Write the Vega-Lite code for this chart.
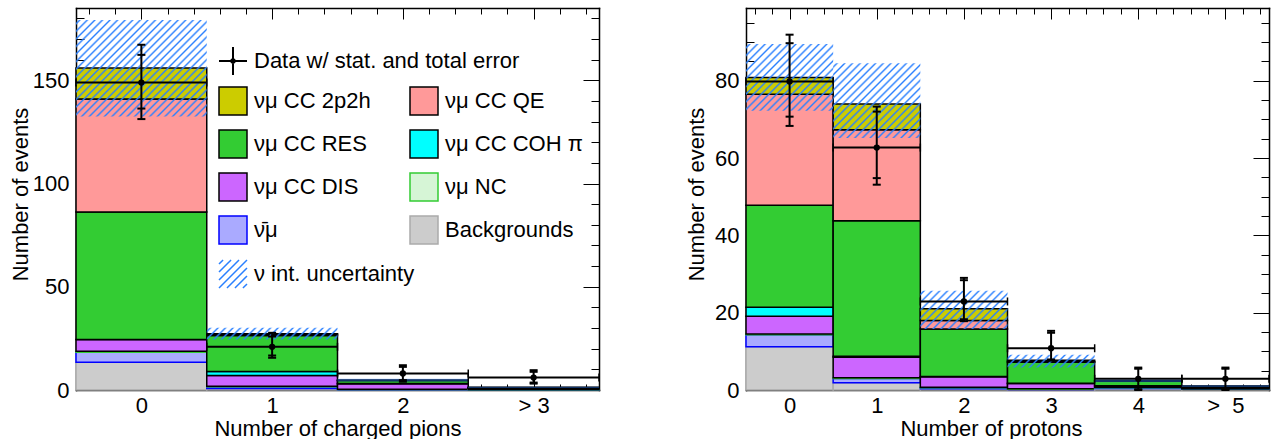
{
  "$schema": "https://vega.github.io/schema/vega-lite/v6.json",
  "padding": {"left": 9, "top": 7, "right": 5, "bottom": 0},
  "background": "white",
  "config": {
    "font": "Liberation Sans",
    "view": {"stroke": null},
    "axis": {"domain": false, "grid": false, "tickColor": "#000000", "tickWidth": 1, "labelColor": "#000000", "titleColor": "#000000", "labelFontSize": 22, "titleFontSize": 22, "titleFontWeight": "normal", "labelFont": "Liberation Sans", "titleFont": "Liberation Sans", "zindex": 1},
    "legend": {"labelFont": "Liberation Sans", "labelFontSize": 22, "labelColor": "#000000", "labelLimit": 500, "padding": 0, "titlePadding": 0}
  },
  "bounds": "flush",
  "spacing": 147,
  "datasets": {
    "lstack": [
      {"bin": 0, "x0": -0.5, "x1": 0.5, "comp": "Backgrounds", "ord": 1, "n": 13.4},
      {"bin": 0, "x0": -0.5, "x1": 0.5, "comp": "ν̄μ", "ord": 2, "n": 4.9},
      {"bin": 0, "x0": -0.5, "x1": 0.5, "comp": "νμ NC", "ord": 3, "n": 0.5},
      {"bin": 0, "x0": -0.5, "x1": 0.5, "comp": "νμ CC DIS", "ord": 4, "n": 5.6},
      {"bin": 0, "x0": -0.5, "x1": 0.5, "comp": "νμ CC COH π", "ord": 5, "n": 0},
      {"bin": 0, "x0": -0.5, "x1": 0.5, "comp": "νμ CC RES", "ord": 6, "n": 61.8},
      {"bin": 0, "x0": -0.5, "x1": 0.5, "comp": "νμ CC QE", "ord": 7, "n": 54.7},
      {"bin": 0, "x0": -0.5, "x1": 0.5, "comp": "νμ CC 2p2h", "ord": 8, "n": 15.0},
      {"bin": 1, "x0": 0.5, "x1": 1.5, "comp": "Backgrounds", "ord": 1, "n": 0.7},
      {"bin": 1, "x0": 0.5, "x1": 1.5, "comp": "ν̄μ", "ord": 2, "n": 0.9},
      {"bin": 1, "x0": 0.5, "x1": 1.5, "comp": "νμ NC", "ord": 3, "n": 0.2},
      {"bin": 1, "x0": 0.5, "x1": 1.5, "comp": "νμ CC DIS", "ord": 4, "n": 5.2},
      {"bin": 1, "x0": 0.5, "x1": 1.5, "comp": "νμ CC COH π", "ord": 5, "n": 2.0},
      {"bin": 1, "x0": 0.5, "x1": 1.5, "comp": "νμ CC RES", "ord": 6, "n": 17.4},
      {"bin": 1, "x0": 0.5, "x1": 1.5, "comp": "νμ CC QE", "ord": 7, "n": 0.6},
      {"bin": 1, "x0": 0.5, "x1": 1.5, "comp": "νμ CC 2p2h", "ord": 8, "n": 0.3},
      {"bin": 2, "x0": 1.5, "x1": 2.5, "comp": "Backgrounds", "ord": 1, "n": 0.1},
      {"bin": 2, "x0": 1.5, "x1": 2.5, "comp": "ν̄μ", "ord": 2, "n": 0.2},
      {"bin": 2, "x0": 1.5, "x1": 2.5, "comp": "νμ NC", "ord": 3, "n": 0.1},
      {"bin": 2, "x0": 1.5, "x1": 2.5, "comp": "νμ CC DIS", "ord": 4, "n": 2.6},
      {"bin": 2, "x0": 1.5, "x1": 2.5, "comp": "νμ CC COH π", "ord": 5, "n": 0.2},
      {"bin": 2, "x0": 1.5, "x1": 2.5, "comp": "νμ CC RES", "ord": 6, "n": 1.4},
      {"bin": 2, "x0": 1.5, "x1": 2.5, "comp": "νμ CC QE", "ord": 7, "n": 0.1},
      {"bin": 2, "x0": 1.5, "x1": 2.5, "comp": "νμ CC 2p2h", "ord": 8, "n": 0.05},
      {"bin": 3, "x0": 2.5, "x1": 3.5, "comp": "Backgrounds", "ord": 1, "n": 0.05},
      {"bin": 3, "x0": 2.5, "x1": 3.5, "comp": "ν̄μ", "ord": 2, "n": 0.1},
      {"bin": 3, "x0": 2.5, "x1": 3.5, "comp": "νμ NC", "ord": 3, "n": 0.05},
      {"bin": 3, "x0": 2.5, "x1": 3.5, "comp": "νμ CC DIS", "ord": 4, "n": 0.6},
      {"bin": 3, "x0": 2.5, "x1": 3.5, "comp": "νμ CC COH π", "ord": 5, "n": 0.05},
      {"bin": 3, "x0": 2.5, "x1": 3.5, "comp": "νμ CC RES", "ord": 6, "n": 0.35},
      {"bin": 3, "x0": 2.5, "x1": 3.5, "comp": "νμ CC QE", "ord": 7, "n": 0.05},
      {"bin": 3, "x0": 2.5, "x1": 3.5, "comp": "νμ CC 2p2h", "ord": 8, "n": 0.02}
    ],
    "lband": [
      {"bin": 0, "x0": -0.5, "x1": 0.5, "lo": 132.5, "hi": 179.2},
      {"bin": 1, "x0": 0.5, "x1": 1.5, "lo": 24.4, "hi": 30.1},
      {"bin": 2, "x0": 1.5, "x1": 2.5, "lo": 4.1, "hi": 5.4},
      {"bin": 3, "x0": 2.5, "x1": 3.5, "lo": 1.0, "hi": 1.55}
    ],
    "ldata": [
      {"bin": 0, "x0": -0.5, "x1": 0.5, "c": 0, "v": 148.9, "tlo": 131.2, "thi": 167.2, "slo": 136.3, "shi": 162.3},
      {"bin": 1, "x0": 0.5, "x1": 1.5, "c": 1, "v": 20.9, "tlo": 15.6, "thi": 27.7, "slo": 16.7, "shi": 25.9},
      {"bin": 2, "x0": 1.5, "x1": 2.5, "c": 2, "v": 8.0, "tlo": 4.0, "thi": 12.0, "slo": 4.8, "shi": 11.2},
      {"bin": 3, "x0": 2.5, "x1": 3.5, "c": 3, "v": 6.0, "tlo": 3.1, "thi": 9.6, "slo": 3.6, "shi": 8.8}
    ],
    "rstack": [
      {"bin": 0, "x0": -0.5, "x1": 0.5, "comp": "Backgrounds", "ord": 1, "n": 11.2},
      {"bin": 0, "x0": -0.5, "x1": 0.5, "comp": "ν̄μ", "ord": 2, "n": 3.1},
      {"bin": 0, "x0": -0.5, "x1": 0.5, "comp": "νμ NC", "ord": 3, "n": 0.2},
      {"bin": 0, "x0": -0.5, "x1": 0.5, "comp": "νμ CC DIS", "ord": 4, "n": 4.6},
      {"bin": 0, "x0": -0.5, "x1": 0.5, "comp": "νμ CC COH π", "ord": 5, "n": 2.3},
      {"bin": 0, "x0": -0.5, "x1": 0.5, "comp": "νμ CC RES", "ord": 6, "n": 26.4},
      {"bin": 0, "x0": -0.5, "x1": 0.5, "comp": "νμ CC QE", "ord": 7, "n": 28.7},
      {"bin": 0, "x0": -0.5, "x1": 0.5, "comp": "νμ CC 2p2h", "ord": 8, "n": 4.3},
      {"bin": 1, "x0": 0.5, "x1": 1.5, "comp": "Backgrounds", "ord": 1, "n": 1.9},
      {"bin": 1, "x0": 0.5, "x1": 1.5, "comp": "ν̄μ", "ord": 2, "n": 1.1},
      {"bin": 1, "x0": 0.5, "x1": 1.5, "comp": "νμ NC", "ord": 3, "n": 0.2},
      {"bin": 1, "x0": 0.5, "x1": 1.5, "comp": "νμ CC DIS", "ord": 4, "n": 5.3},
      {"bin": 1, "x0": 0.5, "x1": 1.5, "comp": "νμ CC COH π", "ord": 5, "n": 0.2},
      {"bin": 1, "x0": 0.5, "x1": 1.5, "comp": "νμ CC RES", "ord": 6, "n": 35.1},
      {"bin": 1, "x0": 0.5, "x1": 1.5, "comp": "νμ CC QE", "ord": 7, "n": 23.5},
      {"bin": 1, "x0": 0.5, "x1": 1.5, "comp": "νμ CC 2p2h", "ord": 8, "n": 6.7},
      {"bin": 2, "x0": 1.5, "x1": 2.5, "comp": "Backgrounds", "ord": 1, "n": 0.3},
      {"bin": 2, "x0": 1.5, "x1": 2.5, "comp": "ν̄μ", "ord": 2, "n": 0.3},
      {"bin": 2, "x0": 1.5, "x1": 2.5, "comp": "νμ NC", "ord": 3, "n": 0.1},
      {"bin": 2, "x0": 1.5, "x1": 2.5, "comp": "νμ CC DIS", "ord": 4, "n": 2.7},
      {"bin": 2, "x0": 1.5, "x1": 2.5, "comp": "νμ CC COH π", "ord": 5, "n": 0.1},
      {"bin": 2, "x0": 1.5, "x1": 2.5, "comp": "νμ CC RES", "ord": 6, "n": 12.3},
      {"bin": 2, "x0": 1.5, "x1": 2.5, "comp": "νμ CC QE", "ord": 7, "n": 2.2},
      {"bin": 2, "x0": 1.5, "x1": 2.5, "comp": "νμ CC 2p2h", "ord": 8, "n": 3.0},
      {"bin": 3, "x0": 2.5, "x1": 3.5, "comp": "Backgrounds", "ord": 1, "n": 0.1},
      {"bin": 3, "x0": 2.5, "x1": 3.5, "comp": "ν̄μ", "ord": 2, "n": 0.1},
      {"bin": 3, "x0": 2.5, "x1": 3.5, "comp": "νμ NC", "ord": 3, "n": 0.1},
      {"bin": 3, "x0": 2.5, "x1": 3.5, "comp": "νμ CC DIS", "ord": 4, "n": 1.4},
      {"bin": 3, "x0": 2.5, "x1": 3.5, "comp": "νμ CC COH π", "ord": 5, "n": 0.05},
      {"bin": 3, "x0": 2.5, "x1": 3.5, "comp": "νμ CC RES", "ord": 6, "n": 5.45},
      {"bin": 3, "x0": 2.5, "x1": 3.5, "comp": "νμ CC QE", "ord": 7, "n": 0.2},
      {"bin": 3, "x0": 2.5, "x1": 3.5, "comp": "νμ CC 2p2h", "ord": 8, "n": 0.3},
      {"bin": 4, "x0": 3.5, "x1": 4.5, "comp": "Backgrounds", "ord": 1, "n": 0.4},
      {"bin": 4, "x0": 3.5, "x1": 4.5, "comp": "ν̄μ", "ord": 2, "n": 0.2},
      {"bin": 4, "x0": 3.5, "x1": 4.5, "comp": "νμ NC", "ord": 3, "n": 0.1},
      {"bin": 4, "x0": 3.5, "x1": 4.5, "comp": "νμ CC DIS", "ord": 4, "n": 0.4},
      {"bin": 4, "x0": 3.5, "x1": 4.5, "comp": "νμ CC COH π", "ord": 5, "n": 0.02},
      {"bin": 4, "x0": 3.5, "x1": 4.5, "comp": "νμ CC RES", "ord": 6, "n": 1.2},
      {"bin": 4, "x0": 3.5, "x1": 4.5, "comp": "νμ CC QE", "ord": 7, "n": 0.03},
      {"bin": 4, "x0": 3.5, "x1": 4.5, "comp": "νμ CC 2p2h", "ord": 8, "n": 0.05},
      {"bin": 5, "x0": 4.5, "x1": 5.5, "comp": "Backgrounds", "ord": 1, "n": 0.2},
      {"bin": 5, "x0": 4.5, "x1": 5.5, "comp": "ν̄μ", "ord": 2, "n": 0.1},
      {"bin": 5, "x0": 4.5, "x1": 5.5, "comp": "νμ NC", "ord": 3, "n": 0.05},
      {"bin": 5, "x0": 4.5, "x1": 5.5, "comp": "νμ CC DIS", "ord": 4, "n": 0.25},
      {"bin": 5, "x0": 4.5, "x1": 5.5, "comp": "νμ CC COH π", "ord": 5, "n": 0.01},
      {"bin": 5, "x0": 4.5, "x1": 5.5, "comp": "νμ CC RES", "ord": 6, "n": 0.35},
      {"bin": 5, "x0": 4.5, "x1": 5.5, "comp": "νμ CC QE", "ord": 7, "n": 0.02},
      {"bin": 5, "x0": 4.5, "x1": 5.5, "comp": "νμ CC 2p2h", "ord": 8, "n": 0.02}
    ],
    "rband": [
      {"bin": 0, "x0": -0.5, "x1": 0.5, "lo": 72.2, "hi": 89.5},
      {"bin": 1, "x0": 0.5, "x1": 1.5, "lo": 65.2, "hi": 84.5},
      {"bin": 2, "x0": 1.5, "x1": 2.5, "lo": 15.8, "hi": 25.7},
      {"bin": 3, "x0": 2.5, "x1": 3.5, "lo": 5.8, "hi": 9.1},
      {"bin": 4, "x0": 3.5, "x1": 4.5, "lo": 2.0, "hi": 2.9},
      {"bin": 5, "x0": 4.5, "x1": 5.5, "lo": 0.8, "hi": 1.2}
    ],
    "rdata": [
      {"bin": 0, "x0": -0.5, "x1": 0.5, "c": 0, "v": 79.8, "tlo": 68.3, "thi": 91.9, "slo": 70.7, "shi": 89.7},
      {"bin": 1, "x0": 0.5, "x1": 1.5, "c": 1, "v": 62.7, "tlo": 53.1, "thi": 73.3, "slo": 54.8, "shi": 72.0},
      {"bin": 2, "x0": 1.5, "x1": 2.5, "c": 2, "v": 22.9, "tlo": 17.8, "thi": 29.0, "slo": 18.3, "shi": 28.4},
      {"bin": 3, "x0": 2.5, "x1": 3.5, "c": 3, "v": 10.8, "tlo": 7.6, "thi": 15.3, "slo": 7.9, "shi": 14.8},
      {"bin": 4, "x0": 3.5, "x1": 4.5, "c": 4, "v": 2.9, "tlo": 0.0, "thi": 5.8, "slo": 0.2, "shi": 5.5},
      {"bin": 5, "x0": 4.5, "x1": 5.5, "c": 5, "v": 2.9, "tlo": 0.0, "thi": 5.8, "slo": 0.2, "shi": 5.5}
    ]
  },
  "hconcat": [
    {
      "width": 523,
      "height": 382,
      "resolve": {"scale": {"fill": "independent", "stroke": "independent", "shape": "independent"}, "axis": {"x": "independent", "y": "independent"}},
      "layer": [
        {
          "data": {"name": "lstack"},
          "transform": [{"stack": "n", "groupby": ["bin"], "sort": [{"field": "ord", "order": "ascending"}], "as": ["lo", "hi"]}],
          "mark": {"type": "rect", "strokeWidth": 1.5},
          "encoding": {
            "x": {"field": "x0", "type": "quantitative", "scale": {"domain": [-0.5, 3.5], "nice": false, "zero": false},
                  "axis": {"orient": "bottom", "values": [0, 1, 2, 3], "offset": -11, "tickSize": 11, "labelPadding": 5, "labelExpr": "datum.value == 3 ? '> 3' : format(datum.value, 'd')", "title": "Number of charged pions", "titleBaseline": "alphabetic", "titleY": 56}},
            "x2": {"field": "x1"},
            "y": {"field": "lo", "type": "quantitative", "scale": {"domain": [0, 185], "nice": false},
                  "axis": {"orient": "left", "values": [0, 50, 100, 150], "offset": -16, "tickSize": 16, "labelPadding": 7, "title": "Number of events", "titleBaseline": "alphabetic", "titleX": -64.5, "titleY": 186}},
            "y2": {"field": "hi"},
            "fill": {"field": "comp", "type": "nominal",
                     "scale": {"domain": ["νμ CC 2p2h", "νμ CC RES", "νμ CC DIS", "ν̄μ", "νμ CC QE", "νμ CC COH π", "νμ NC", "Backgrounds"],
                               "range": ["#cccc00", "#33cc33", "#cc66ff", "#aaaaff", "#ff9999", "#00ffff", "#d6f5d6", "#cccccc"]},
                     "legend": {"orient": "none", "legendX": 142, "legendY": 78, "columns": 2, "columnPadding": 36, "rowPadding": 9, "symbolType": "square", "symbolSize": 784, "symbolStrokeWidth": 1.5, "labelOffset": 6, "title": null}},
            "stroke": {"field": "comp", "type": "nominal",
                       "scale": {"domain": ["νμ CC 2p2h", "νμ CC RES", "νμ CC DIS", "ν̄μ", "νμ CC QE", "νμ CC COH π", "νμ NC", "Backgrounds"],
                                 "range": ["#000000", "#000000", "#000000", "#0000ff", "#000000", "#000000", "#33cc33", "#aaaaaa"]},
                       "legend": {"orient": "none", "legendX": 142, "legendY": 78, "columns": 2, "columnPadding": 36, "rowPadding": 9, "symbolType": "square", "symbolSize": 784, "symbolStrokeWidth": 1.5, "labelOffset": 6, "title": null}}
          }
        },
        {
          "data": {"name": "lband"},
          "transform": [{"filter": "datum.bin == 0"}],
          "mark": {"type": "rect", "fill": {"gradient": "linear", "x1": 0, "y1": 0, "x2": 1.12548, "y2": 0.82979, "stops": [
            {"offset": 0.0079, "color": "rgba(42,128,255,0)"}, {"offset": 0.0167, "color": "#2a80ff"}, {"offset": 0.0255, "color": "rgba(42,128,255,0)"},
            {"offset": 0.0412, "color": "rgba(42,128,255,0)"}, {"offset": 0.05, "color": "#2a80ff"}, {"offset": 0.0588, "color": "rgba(42,128,255,0)"},
            {"offset": 0.0745, "color": "rgba(42,128,255,0)"}, {"offset": 0.0833, "color": "#2a80ff"}, {"offset": 0.0921, "color": "rgba(42,128,255,0)"},
            {"offset": 0.1079, "color": "rgba(42,128,255,0)"}, {"offset": 0.1167, "color": "#2a80ff"}, {"offset": 0.1255, "color": "rgba(42,128,255,0)"},
            {"offset": 0.1412, "color": "rgba(42,128,255,0)"}, {"offset": 0.15, "color": "#2a80ff"}, {"offset": 0.1588, "color": "rgba(42,128,255,0)"},
            {"offset": 0.1745, "color": "rgba(42,128,255,0)"}, {"offset": 0.1833, "color": "#2a80ff"}, {"offset": 0.1921, "color": "rgba(42,128,255,0)"},
            {"offset": 0.2079, "color": "rgba(42,128,255,0)"}, {"offset": 0.2167, "color": "#2a80ff"}, {"offset": 0.2255, "color": "rgba(42,128,255,0)"},
            {"offset": 0.2412, "color": "rgba(42,128,255,0)"}, {"offset": 0.25, "color": "#2a80ff"}, {"offset": 0.2588, "color": "rgba(42,128,255,0)"},
            {"offset": 0.2745, "color": "rgba(42,128,255,0)"}, {"offset": 0.2833, "color": "#2a80ff"}, {"offset": 0.2921, "color": "rgba(42,128,255,0)"},
            {"offset": 0.3079, "color": "rgba(42,128,255,0)"}, {"offset": 0.3167, "color": "#2a80ff"}, {"offset": 0.3255, "color": "rgba(42,128,255,0)"},
            {"offset": 0.3412, "color": "rgba(42,128,255,0)"}, {"offset": 0.35, "color": "#2a80ff"}, {"offset": 0.3588, "color": "rgba(42,128,255,0)"},
            {"offset": 0.3745, "color": "rgba(42,128,255,0)"}, {"offset": 0.3833, "color": "#2a80ff"}, {"offset": 0.3921, "color": "rgba(42,128,255,0)"},
            {"offset": 0.4079, "color": "rgba(42,128,255,0)"}, {"offset": 0.4167, "color": "#2a80ff"}, {"offset": 0.4255, "color": "rgba(42,128,255,0)"},
            {"offset": 0.4412, "color": "rgba(42,128,255,0)"}, {"offset": 0.45, "color": "#2a80ff"}, {"offset": 0.4588, "color": "rgba(42,128,255,0)"},
            {"offset": 0.4745, "color": "rgba(42,128,255,0)"}, {"offset": 0.4833, "color": "#2a80ff"}, {"offset": 0.4921, "color": "rgba(42,128,255,0)"},
            {"offset": 0.5079, "color": "rgba(42,128,255,0)"}, {"offset": 0.5167, "color": "#2a80ff"}, {"offset": 0.5255, "color": "rgba(42,128,255,0)"},
            {"offset": 0.5412, "color": "rgba(42,128,255,0)"}, {"offset": 0.55, "color": "#2a80ff"}, {"offset": 0.5588, "color": "rgba(42,128,255,0)"},
            {"offset": 0.5745, "color": "rgba(42,128,255,0)"}, {"offset": 0.5833, "color": "#2a80ff"}, {"offset": 0.5921, "color": "rgba(42,128,255,0)"},
            {"offset": 0.6079, "color": "rgba(42,128,255,0)"}, {"offset": 0.6167, "color": "#2a80ff"}, {"offset": 0.6255, "color": "rgba(42,128,255,0)"},
            {"offset": 0.6412, "color": "rgba(42,128,255,0)"}, {"offset": 0.65, "color": "#2a80ff"}, {"offset": 0.6588, "color": "rgba(42,128,255,0)"},
            {"offset": 0.6745, "color": "rgba(42,128,255,0)"}, {"offset": 0.6833, "color": "#2a80ff"}, {"offset": 0.6921, "color": "rgba(42,128,255,0)"},
            {"offset": 0.7079, "color": "rgba(42,128,255,0)"}, {"offset": 0.7167, "color": "#2a80ff"}, {"offset": 0.7255, "color": "rgba(42,128,255,0)"},
            {"offset": 0.7412, "color": "rgba(42,128,255,0)"}, {"offset": 0.75, "color": "#2a80ff"}, {"offset": 0.7588, "color": "rgba(42,128,255,0)"},
            {"offset": 0.7745, "color": "rgba(42,128,255,0)"}, {"offset": 0.7833, "color": "#2a80ff"}, {"offset": 0.7921, "color": "rgba(42,128,255,0)"},
            {"offset": 0.8079, "color": "rgba(42,128,255,0)"}, {"offset": 0.8167, "color": "#2a80ff"}, {"offset": 0.8255, "color": "rgba(42,128,255,0)"},
            {"offset": 0.8412, "color": "rgba(42,128,255,0)"}, {"offset": 0.85, "color": "#2a80ff"}, {"offset": 0.8588, "color": "rgba(42,128,255,0)"},
            {"offset": 0.8745, "color": "rgba(42,128,255,0)"}, {"offset": 0.8833, "color": "#2a80ff"}, {"offset": 0.8921, "color": "rgba(42,128,255,0)"},
            {"offset": 0.9079, "color": "rgba(42,128,255,0)"}, {"offset": 0.9167, "color": "#2a80ff"}, {"offset": 0.9255, "color": "rgba(42,128,255,0)"},
            {"offset": 0.9412, "color": "rgba(42,128,255,0)"}, {"offset": 0.95, "color": "#2a80ff"}, {"offset": 0.9588, "color": "rgba(42,128,255,0)"},
            {"offset": 0.9745, "color": "rgba(42,128,255,0)"}, {"offset": 0.9833, "color": "#2a80ff"}, {"offset": 0.9921, "color": "rgba(42,128,255,0)"}
          ]}},
          "encoding": {
            "x": {"field": "x0", "type": "quantitative", "scale": {"domain": [-0.5, 3.5], "nice": false, "zero": false},
                  "axis": {"orient": "bottom", "values": [-0.4, -0.2, 0.2, 0.4, 0.6, 0.8, 1.2, 1.4, 1.6, 1.8, 2.2, 2.4, 2.6, 2.8, 3.2, 3.4], "offset": -6, "tickSize": 6, "labels": false, "title": null}},
            "x2": {"field": "x1"},
            "y": {"field": "lo", "type": "quantitative", "scale": {"domain": [0, 185], "nice": false},
                  "axis": {"orient": "left", "values": [10, 20, 30, 40, 60, 70, 80, 90, 110, 120, 130, 140, 160, 170, 180], "offset": -8, "tickSize": 8, "labels": false, "title": null}},
            "y2": {"field": "hi"}
          }
        },
        {
          "data": {"name": "lband"},
          "transform": [{"filter": "datum.bin == 1"}],
          "mark": {"type": "rect", "fill": {"gradient": "linear", "x1": 0, "y1": 0, "x2": 1.08126, "y2": 0.09734, "stops": [
            {"offset": 0.0123, "color": "rgba(42,128,255,0)"}, {"offset": 0.0263, "color": "#2a80ff"}, {"offset": 0.0403, "color": "rgba(42,128,255,0)"},
            {"offset": 0.0650, "color": "rgba(42,128,255,0)"}, {"offset": 0.0789, "color": "#2a80ff"}, {"offset": 0.0929, "color": "rgba(42,128,255,0)"},
            {"offset": 0.1176, "color": "rgba(42,128,255,0)"}, {"offset": 0.1316, "color": "#2a80ff"}, {"offset": 0.1456, "color": "rgba(42,128,255,0)"},
            {"offset": 0.1702, "color": "rgba(42,128,255,0)"}, {"offset": 0.1842, "color": "#2a80ff"}, {"offset": 0.1982, "color": "rgba(42,128,255,0)"},
            {"offset": 0.2228, "color": "rgba(42,128,255,0)"}, {"offset": 0.2368, "color": "#2a80ff"}, {"offset": 0.2508, "color": "rgba(42,128,255,0)"},
            {"offset": 0.2755, "color": "rgba(42,128,255,0)"}, {"offset": 0.2895, "color": "#2a80ff"}, {"offset": 0.3035, "color": "rgba(42,128,255,0)"},
            {"offset": 0.3281, "color": "rgba(42,128,255,0)"}, {"offset": 0.3421, "color": "#2a80ff"}, {"offset": 0.3561, "color": "rgba(42,128,255,0)"},
            {"offset": 0.3807, "color": "rgba(42,128,255,0)"}, {"offset": 0.3947, "color": "#2a80ff"}, {"offset": 0.4087, "color": "rgba(42,128,255,0)"},
            {"offset": 0.4334, "color": "rgba(42,128,255,0)"}, {"offset": 0.4474, "color": "#2a80ff"}, {"offset": 0.4614, "color": "rgba(42,128,255,0)"},
            {"offset": 0.486, "color": "rgba(42,128,255,0)"}, {"offset": 0.5, "color": "#2a80ff"}, {"offset": 0.514, "color": "rgba(42,128,255,0)"},
            {"offset": 0.5386, "color": "rgba(42,128,255,0)"}, {"offset": 0.5526, "color": "#2a80ff"}, {"offset": 0.5666, "color": "rgba(42,128,255,0)"},
            {"offset": 0.5913, "color": "rgba(42,128,255,0)"}, {"offset": 0.6053, "color": "#2a80ff"}, {"offset": 0.6193, "color": "rgba(42,128,255,0)"},
            {"offset": 0.6439, "color": "rgba(42,128,255,0)"}, {"offset": 0.6579, "color": "#2a80ff"}, {"offset": 0.6719, "color": "rgba(42,128,255,0)"},
            {"offset": 0.6965, "color": "rgba(42,128,255,0)"}, {"offset": 0.7105, "color": "#2a80ff"}, {"offset": 0.7245, "color": "rgba(42,128,255,0)"},
            {"offset": 0.7492, "color": "rgba(42,128,255,0)"}, {"offset": 0.7632, "color": "#2a80ff"}, {"offset": 0.7772, "color": "rgba(42,128,255,0)"},
            {"offset": 0.8018, "color": "rgba(42,128,255,0)"}, {"offset": 0.8158, "color": "#2a80ff"}, {"offset": 0.8298, "color": "rgba(42,128,255,0)"},
            {"offset": 0.8544, "color": "rgba(42,128,255,0)"}, {"offset": 0.8684, "color": "#2a80ff"}, {"offset": 0.8824, "color": "rgba(42,128,255,0)"},
            {"offset": 0.9071, "color": "rgba(42,128,255,0)"}, {"offset": 0.9211, "color": "#2a80ff"}, {"offset": 0.9351, "color": "rgba(42,128,255,0)"},
            {"offset": 0.9597, "color": "rgba(42,128,255,0)"}, {"offset": 0.9737, "color": "#2a80ff"}, {"offset": 0.9877, "color": "rgba(42,128,255,0)"}
          ]}},
          "encoding": {
            "x": {"field": "x0", "type": "quantitative", "scale": {"domain": [-0.5, 3.5], "nice": false, "zero": false}, "axis": null},
            "x2": {"field": "x1"},
            "y": {"field": "lo", "type": "quantitative", "scale": {"domain": [0, 185], "nice": false}, "axis": null},
            "y2": {"field": "hi"}
          }
        },
        {
          "data": {"name": "lband"},
          "transform": [{"filter": "datum.bin >= 2"}],
          "mark": {"type": "rect", "fill": "rgba(42,128,255,0.4)"},
          "encoding": {
            "x": {"field": "x0", "type": "quantitative", "scale": {"domain": [-0.5, 3.5], "nice": false, "zero": false}, "axis": null},
            "x2": {"field": "x1"},
            "y": {"field": "lo", "type": "quantitative", "scale": {"domain": [0, 185], "nice": false}, "axis": null},
            "y2": {"field": "hi"}
          }
        },
        {
          "data": {"name": "lband"},
          "mark": {"type": "point", "filled": false, "size": 0, "strokeWidth": 1.5, "color": "#2a80ff", "opacity": 1},
          "encoding": {
            "x": {"field": "x0", "type": "quantitative", "scale": {"domain": [-0.5, 3.5], "nice": false, "zero": false}, "axis": null},
            "y": {"field": "lo", "type": "quantitative", "scale": {"domain": [0, 185], "nice": false}, "axis": null},
            "shape": {"datum": "ν int. uncertainty", "type": "nominal",
                      "scale": {"range": ["M-1,-0.71L-0.71,-1M-1,-0.14L-0.14,-1M-1,0.43L0.43,-1M-1,1L1,-1M-0.43,1L1,-0.43M0.14,1L1,0.14M0.71,1L1,0.71"]},
                      "legend": {"orient": "none", "legendX": 142, "legendY": 251, "symbolSize": 784, "symbolStrokeWidth": 1.5, "symbolStrokeColor": "#2a80ff", "labelOffset": 6, "title": null}}
          }
        },
        {
          "data": {"name": "ldata"},
          "mark": {"type": "rule", "strokeWidth": 2, "color": "#000000"},
          "encoding": {
            "x": {"field": "x0", "type": "quantitative", "scale": {"domain": [-0.5, 3.5], "nice": false, "zero": false},
                  "axis": {"orient": "top", "values": [0, 1, 2, 3], "offset": -11, "tickSize": 11, "labels": false, "title": null}},
            "x2": {"field": "x1"},
            "y": {"field": "v", "type": "quantitative", "scale": {"domain": [0, 185], "nice": false},
                  "axis": {"orient": "right", "values": [0, 50, 100, 150], "offset": -16, "tickSize": 16, "labels": false, "title": null}}
          }
        },
        {
          "data": {"name": "ldata"},
          "mark": {"type": "rule", "strokeWidth": 2, "color": "#000000"},
          "encoding": {
            "x": {"field": "c", "type": "quantitative", "scale": {"domain": [-0.5, 3.5], "nice": false, "zero": false},
                  "axis": {"orient": "top", "values": [-0.4, -0.2, 0.2, 0.4, 0.6, 0.8, 1.2, 1.4, 1.6, 1.8, 2.2, 2.4, 2.6, 2.8, 3.2, 3.4], "offset": -6, "tickSize": 6, "labels": false, "title": null}},
            "y": {"field": "tlo", "type": "quantitative", "scale": {"domain": [0, 185], "nice": false},
                  "axis": {"orient": "right", "values": [10, 20, 30, 40, 60, 70, 80, 90, 110, 120, 130, 140, 160, 170, 180], "offset": -8, "tickSize": 8, "labels": false, "title": null}},
            "y2": {"field": "thi"}
          }
        },
        {
          "data": {"name": "ldata"},
          "transform": [{"fold": ["tlo", "thi", "slo", "shi"], "as": ["k", "ev"]}],
          "mark": {"type": "tick", "orient": "horizontal", "size": 8, "thickness": 2, "color": "#000000", "opacity": 1},
          "encoding": {
            "x": {"field": "c", "type": "quantitative", "scale": {"domain": [-0.5, 3.5], "nice": false, "zero": false},
                  "axis": {"orient": "bottom", "domain": true, "domainWidth": 1.5, "domainColor": "#000000", "domainCap": "square", "ticks": false, "labels": false, "title": null}},
            "y": {"field": "ev", "type": "quantitative", "scale": {"domain": [0, 185], "nice": false},
                  "axis": {"orient": "left", "domain": true, "domainWidth": 1.5, "domainColor": "#000000", "domainCap": "square", "ticks": false, "labels": false, "title": null}}
          }
        },
        {
          "data": {"name": "ldata"},
          "transform": [{"fold": ["x0", "x1"], "as": ["k", "ex"]}],
          "mark": {"type": "tick", "orient": "vertical", "size": 8, "thickness": 1.5, "color": "#000000", "opacity": 1},
          "encoding": {
            "x": {"field": "ex", "type": "quantitative", "scale": {"domain": [-0.5, 3.5], "nice": false, "zero": false},
                  "axis": {"orient": "top", "domain": true, "domainWidth": 1.5, "domainColor": "#000000", "domainCap": "square", "ticks": false, "labels": false, "title": null}},
            "y": {"field": "v", "type": "quantitative", "scale": {"domain": [0, 185], "nice": false},
                  "axis": {"orient": "right", "domain": true, "domainWidth": 1.5, "domainColor": "#000000", "domainCap": "square", "ticks": false, "labels": false, "title": null}}
          }
        },
        {
          "data": {"name": "ldata"},
          "mark": {"type": "point", "filled": true, "size": 40, "color": "#000000", "opacity": 1},
          "encoding": {
            "x": {"field": "c", "type": "quantitative", "scale": {"domain": [-0.5, 3.5], "nice": false, "zero": false}, "axis": null},
            "y": {"field": "v", "type": "quantitative", "scale": {"domain": [0, 185], "nice": false}, "axis": null}
          }
        },
        {
          "data": {"name": "ldata"},
          "mark": {"type": "point", "filled": false, "size": 0, "strokeWidth": 2, "color": "#000000", "opacity": 1},
          "encoding": {
            "x": {"field": "c", "type": "quantitative", "scale": {"domain": [-0.5, 3.5], "nice": false, "zero": false}, "axis": null},
            "y": {"field": "v", "type": "quantitative", "scale": {"domain": [0, 185], "nice": false}, "axis": null},
            "shape": {"datum": "Data w/ stat. and total error", "type": "nominal",
                      "scale": {"range": ["M-1,0L1,0M0,-1L0,1M0.12,0A0.12,0.12,0,1,1,-0.12,0A0.12,0.12,0,1,1,0.12,0Z"]},
                      "legend": {"orient": "none", "legendX": 142, "legendY": 38, "symbolSize": 784, "symbolStrokeWidth": 2, "symbolStrokeColor": "#000000", "labelOffset": 6, "title": null}}
          }
        }
      ]
    },
    {
      "width": 523,
      "height": 382,
      "resolve": {"scale": {"fill": "independent", "stroke": "independent"}, "axis": {"x": "independent", "y": "independent"}},
      "layer": [
        {
          "data": {"name": "rstack"},
          "transform": [{"stack": "n", "groupby": ["bin"], "sort": [{"field": "ord", "order": "ascending"}], "as": ["lo", "hi"]}],
          "mark": {"type": "rect", "strokeWidth": 1.5},
          "encoding": {
            "x": {"field": "x0", "type": "quantitative", "scale": {"domain": [-0.5, 5.5], "nice": false, "zero": false},
                  "axis": {"orient": "bottom", "values": [0, 1, 2, 3, 4, 5], "offset": -11, "tickSize": 11, "labelPadding": 5, "labelExpr": "datum.value == 5 ? '> \u00a05' : format(datum.value, 'd')", "title": "Number of protons", "titleBaseline": "alphabetic", "titleY": 56, "titleX": 245}},
            "x2": {"field": "x1"},
            "y": {"field": "lo", "type": "quantitative", "scale": {"domain": [0, 98.8], "nice": false},
                  "axis": {"orient": "left", "values": [0, 20, 40, 60, 80], "offset": -16, "tickSize": 16, "labelPadding": 7, "title": "Number of events", "titleBaseline": "alphabetic", "titleX": -58.5, "titleY": 186}},
            "y2": {"field": "hi"},
            "fill": {"field": "comp", "type": "nominal",
                     "scale": {"domain": ["νμ CC 2p2h", "νμ CC RES", "νμ CC DIS", "ν̄μ", "νμ CC QE", "νμ CC COH π", "νμ NC", "Backgrounds"],
                               "range": ["#cccc00", "#33cc33", "#cc66ff", "#aaaaff", "#ff9999", "#00ffff", "#d6f5d6", "#cccccc"]},
                     "legend": null},
            "stroke": {"field": "comp", "type": "nominal",
                       "scale": {"domain": ["νμ CC 2p2h", "νμ CC RES", "νμ CC DIS", "ν̄μ", "νμ CC QE", "νμ CC COH π", "νμ NC", "Backgrounds"],
                                 "range": ["#000000", "#000000", "#000000", "#0000ff", "#000000", "#000000", "#33cc33", "#aaaaaa"]},
                       "legend": null}
          }
        },
        {
          "data": {"name": "rband"},
          "transform": [{"filter": "datum.bin == 0"}],
          "mark": {"type": "rect", "fill": {"gradient": "linear", "x1": 0, "y1": 0, "x2": 1.11237, "y2": 0.85358, "stops": [
            {"offset": 0.012, "color": "rgba(42,128,255,0)"}, {"offset": 0.025, "color": "#2a80ff"}, {"offset": 0.038, "color": "rgba(42,128,255,0)"},
            {"offset": 0.062, "color": "rgba(42,128,255,0)"}, {"offset": 0.075, "color": "#2a80ff"}, {"offset": 0.088, "color": "rgba(42,128,255,0)"},
            {"offset": 0.112, "color": "rgba(42,128,255,0)"}, {"offset": 0.125, "color": "#2a80ff"}, {"offset": 0.138, "color": "rgba(42,128,255,0)"},
            {"offset": 0.162, "color": "rgba(42,128,255,0)"}, {"offset": 0.175, "color": "#2a80ff"}, {"offset": 0.188, "color": "rgba(42,128,255,0)"},
            {"offset": 0.212, "color": "rgba(42,128,255,0)"}, {"offset": 0.225, "color": "#2a80ff"}, {"offset": 0.238, "color": "rgba(42,128,255,0)"},
            {"offset": 0.262, "color": "rgba(42,128,255,0)"}, {"offset": 0.275, "color": "#2a80ff"}, {"offset": 0.288, "color": "rgba(42,128,255,0)"},
            {"offset": 0.312, "color": "rgba(42,128,255,0)"}, {"offset": 0.325, "color": "#2a80ff"}, {"offset": 0.338, "color": "rgba(42,128,255,0)"},
            {"offset": 0.362, "color": "rgba(42,128,255,0)"}, {"offset": 0.375, "color": "#2a80ff"}, {"offset": 0.388, "color": "rgba(42,128,255,0)"},
            {"offset": 0.412, "color": "rgba(42,128,255,0)"}, {"offset": 0.425, "color": "#2a80ff"}, {"offset": 0.438, "color": "rgba(42,128,255,0)"},
            {"offset": 0.462, "color": "rgba(42,128,255,0)"}, {"offset": 0.475, "color": "#2a80ff"}, {"offset": 0.488, "color": "rgba(42,128,255,0)"},
            {"offset": 0.512, "color": "rgba(42,128,255,0)"}, {"offset": 0.525, "color": "#2a80ff"}, {"offset": 0.538, "color": "rgba(42,128,255,0)"},
            {"offset": 0.562, "color": "rgba(42,128,255,0)"}, {"offset": 0.575, "color": "#2a80ff"}, {"offset": 0.588, "color": "rgba(42,128,255,0)"},
            {"offset": 0.612, "color": "rgba(42,128,255,0)"}, {"offset": 0.625, "color": "#2a80ff"}, {"offset": 0.638, "color": "rgba(42,128,255,0)"},
            {"offset": 0.662, "color": "rgba(42,128,255,0)"}, {"offset": 0.675, "color": "#2a80ff"}, {"offset": 0.688, "color": "rgba(42,128,255,0)"},
            {"offset": 0.712, "color": "rgba(42,128,255,0)"}, {"offset": 0.725, "color": "#2a80ff"}, {"offset": 0.738, "color": "rgba(42,128,255,0)"},
            {"offset": 0.762, "color": "rgba(42,128,255,0)"}, {"offset": 0.775, "color": "#2a80ff"}, {"offset": 0.788, "color": "rgba(42,128,255,0)"},
            {"offset": 0.812, "color": "rgba(42,128,255,0)"}, {"offset": 0.825, "color": "#2a80ff"}, {"offset": 0.838, "color": "rgba(42,128,255,0)"},
            {"offset": 0.862, "color": "rgba(42,128,255,0)"}, {"offset": 0.875, "color": "#2a80ff"}, {"offset": 0.888, "color": "rgba(42,128,255,0)"},
            {"offset": 0.912, "color": "rgba(42,128,255,0)"}, {"offset": 0.925, "color": "#2a80ff"}, {"offset": 0.938, "color": "rgba(42,128,255,0)"},
            {"offset": 0.962, "color": "rgba(42,128,255,0)"}, {"offset": 0.975, "color": "#2a80ff"}, {"offset": 0.988, "color": "rgba(42,128,255,0)"}
          ]}},
          "encoding": {
            "x": {"field": "x0", "type": "quantitative", "scale": {"domain": [-0.5, 5.5], "nice": false, "zero": false},
                  "axis": {"orient": "bottom", "values": [-0.4, -0.2, 0.2, 0.4, 0.6, 0.8, 1.2, 1.4, 1.6, 1.8, 2.2, 2.4, 2.6, 2.8, 3.2, 3.4, 3.6, 3.8, 4.2, 4.4, 4.6, 4.8, 5.2, 5.4], "offset": -6, "tickSize": 6, "labels": false, "title": null}},
            "x2": {"field": "x1"},
            "y": {"field": "lo", "type": "quantitative", "scale": {"domain": [0, 98.8], "nice": false},
                  "axis": {"orient": "left", "values": [5, 10, 15, 25, 30, 35, 45, 50, 55, 65, 70, 75, 85, 90, 95], "offset": -8, "tickSize": 8, "labels": false, "title": null}},
            "y2": {"field": "hi"}
          }
        },
        {
          "data": {"name": "rband"},
          "transform": [{"filter": "datum.bin == 1"}],
          "mark": {"type": "rect", "fill": {"gradient": "linear", "x1": 0, "y1": 0, "x2": 1.07113, "y2": 0.91693, "stops": [
            {"offset": 0.0114, "color": "rgba(42,128,255,0)"}, {"offset": 0.0238, "color": "#2a80ff"}, {"offset": 0.0362, "color": "rgba(42,128,255,0)"},
            {"offset": 0.0590, "color": "rgba(42,128,255,0)"}, {"offset": 0.0714, "color": "#2a80ff"}, {"offset": 0.0838, "color": "rgba(42,128,255,0)"},
            {"offset": 0.1066, "color": "rgba(42,128,255,0)"}, {"offset": 0.1190, "color": "#2a80ff"}, {"offset": 0.1314, "color": "rgba(42,128,255,0)"},
            {"offset": 0.1543, "color": "rgba(42,128,255,0)"}, {"offset": 0.1667, "color": "#2a80ff"}, {"offset": 0.1791, "color": "rgba(42,128,255,0)"},
            {"offset": 0.2019, "color": "rgba(42,128,255,0)"}, {"offset": 0.2143, "color": "#2a80ff"}, {"offset": 0.2267, "color": "rgba(42,128,255,0)"},
            {"offset": 0.2495, "color": "rgba(42,128,255,0)"}, {"offset": 0.2619, "color": "#2a80ff"}, {"offset": 0.2743, "color": "rgba(42,128,255,0)"},
            {"offset": 0.2971, "color": "rgba(42,128,255,0)"}, {"offset": 0.3095, "color": "#2a80ff"}, {"offset": 0.3219, "color": "rgba(42,128,255,0)"},
            {"offset": 0.3447, "color": "rgba(42,128,255,0)"}, {"offset": 0.3571, "color": "#2a80ff"}, {"offset": 0.3695, "color": "rgba(42,128,255,0)"},
            {"offset": 0.3924, "color": "rgba(42,128,255,0)"}, {"offset": 0.4048, "color": "#2a80ff"}, {"offset": 0.4172, "color": "rgba(42,128,255,0)"},
            {"offset": 0.4400, "color": "rgba(42,128,255,0)"}, {"offset": 0.4524, "color": "#2a80ff"}, {"offset": 0.4648, "color": "rgba(42,128,255,0)"},
            {"offset": 0.4876, "color": "rgba(42,128,255,0)"}, {"offset": 0.5, "color": "#2a80ff"}, {"offset": 0.5124, "color": "rgba(42,128,255,0)"},
            {"offset": 0.5352, "color": "rgba(42,128,255,0)"}, {"offset": 0.5476, "color": "#2a80ff"}, {"offset": 0.5600, "color": "rgba(42,128,255,0)"},
            {"offset": 0.5828, "color": "rgba(42,128,255,0)"}, {"offset": 0.5952, "color": "#2a80ff"}, {"offset": 0.6076, "color": "rgba(42,128,255,0)"},
            {"offset": 0.6305, "color": "rgba(42,128,255,0)"}, {"offset": 0.6429, "color": "#2a80ff"}, {"offset": 0.6553, "color": "rgba(42,128,255,0)"},
            {"offset": 0.6781, "color": "rgba(42,128,255,0)"}, {"offset": 0.6905, "color": "#2a80ff"}, {"offset": 0.7029, "color": "rgba(42,128,255,0)"},
            {"offset": 0.7257, "color": "rgba(42,128,255,0)"}, {"offset": 0.7381, "color": "#2a80ff"}, {"offset": 0.7505, "color": "rgba(42,128,255,0)"},
            {"offset": 0.7733, "color": "rgba(42,128,255,0)"}, {"offset": 0.7857, "color": "#2a80ff"}, {"offset": 0.7981, "color": "rgba(42,128,255,0)"},
            {"offset": 0.8209, "color": "rgba(42,128,255,0)"}, {"offset": 0.8333, "color": "#2a80ff"}, {"offset": 0.8457, "color": "rgba(42,128,255,0)"},
            {"offset": 0.8686, "color": "rgba(42,128,255,0)"}, {"offset": 0.8810, "color": "#2a80ff"}, {"offset": 0.8934, "color": "rgba(42,128,255,0)"},
            {"offset": 0.9162, "color": "rgba(42,128,255,0)"}, {"offset": 0.9286, "color": "#2a80ff"}, {"offset": 0.9410, "color": "rgba(42,128,255,0)"},
            {"offset": 0.9638, "color": "rgba(42,128,255,0)"}, {"offset": 0.9762, "color": "#2a80ff"}, {"offset": 0.9886, "color": "rgba(42,128,255,0)"}
          ]}},
          "encoding": {
            "x": {"field": "x0", "type": "quantitative", "scale": {"domain": [-0.5, 5.5], "nice": false, "zero": false}, "axis": null},
            "x2": {"field": "x1"},
            "y": {"field": "lo", "type": "quantitative", "scale": {"domain": [0, 98.8], "nice": false}, "axis": null},
            "y2": {"field": "hi"}
          }
        },
        {
          "data": {"name": "rband"},
          "transform": [{"filter": "datum.bin == 2"}],
          "mark": {"type": "rect", "fill": {"gradient": "linear", "x1": 0, "y1": 0, "x2": 1.20646, "y2": 0.5298, "stops": [
            {"offset": 0.0154, "color": "rgba(42,128,255,0)"}, {"offset": 0.0313, "color": "#2a80ff"}, {"offset": 0.0472, "color": "rgba(42,128,255,0)"},
            {"offset": 0.0779, "color": "rgba(42,128,255,0)"}, {"offset": 0.0938, "color": "#2a80ff"}, {"offset": 0.1097, "color": "rgba(42,128,255,0)"},
            {"offset": 0.1404, "color": "rgba(42,128,255,0)"}, {"offset": 0.1563, "color": "#2a80ff"}, {"offset": 0.1722, "color": "rgba(42,128,255,0)"},
            {"offset": 0.2029, "color": "rgba(42,128,255,0)"}, {"offset": 0.2188, "color": "#2a80ff"}, {"offset": 0.2347, "color": "rgba(42,128,255,0)"},
            {"offset": 0.2654, "color": "rgba(42,128,255,0)"}, {"offset": 0.2813, "color": "#2a80ff"}, {"offset": 0.2972, "color": "rgba(42,128,255,0)"},
            {"offset": 0.3279, "color": "rgba(42,128,255,0)"}, {"offset": 0.3438, "color": "#2a80ff"}, {"offset": 0.3597, "color": "rgba(42,128,255,0)"},
            {"offset": 0.3904, "color": "rgba(42,128,255,0)"}, {"offset": 0.4063, "color": "#2a80ff"}, {"offset": 0.4222, "color": "rgba(42,128,255,0)"},
            {"offset": 0.4529, "color": "rgba(42,128,255,0)"}, {"offset": 0.4688, "color": "#2a80ff"}, {"offset": 0.4847, "color": "rgba(42,128,255,0)"},
            {"offset": 0.5154, "color": "rgba(42,128,255,0)"}, {"offset": 0.5313, "color": "#2a80ff"}, {"offset": 0.5472, "color": "rgba(42,128,255,0)"},
            {"offset": 0.5779, "color": "rgba(42,128,255,0)"}, {"offset": 0.5938, "color": "#2a80ff"}, {"offset": 0.6097, "color": "rgba(42,128,255,0)"},
            {"offset": 0.6404, "color": "rgba(42,128,255,0)"}, {"offset": 0.6563, "color": "#2a80ff"}, {"offset": 0.6722, "color": "rgba(42,128,255,0)"},
            {"offset": 0.7029, "color": "rgba(42,128,255,0)"}, {"offset": 0.7188, "color": "#2a80ff"}, {"offset": 0.7347, "color": "rgba(42,128,255,0)"},
            {"offset": 0.7654, "color": "rgba(42,128,255,0)"}, {"offset": 0.7813, "color": "#2a80ff"}, {"offset": 0.7972, "color": "rgba(42,128,255,0)"},
            {"offset": 0.8279, "color": "rgba(42,128,255,0)"}, {"offset": 0.8438, "color": "#2a80ff"}, {"offset": 0.8597, "color": "rgba(42,128,255,0)"},
            {"offset": 0.8904, "color": "rgba(42,128,255,0)"}, {"offset": 0.9063, "color": "#2a80ff"}, {"offset": 0.9222, "color": "rgba(42,128,255,0)"},
            {"offset": 0.9529, "color": "rgba(42,128,255,0)"}, {"offset": 0.9688, "color": "#2a80ff"}, {"offset": 0.9847, "color": "rgba(42,128,255,0)"}
          ]}},
          "encoding": {
            "x": {"field": "x0", "type": "quantitative", "scale": {"domain": [-0.5, 5.5], "nice": false, "zero": false}, "axis": null},
            "x2": {"field": "x1"},
            "y": {"field": "lo", "type": "quantitative", "scale": {"domain": [0, 98.8], "nice": false}, "axis": null},
            "y2": {"field": "hi"}
          }
        },
        {
          "data": {"name": "rband"},
          "transform": [{"filter": "datum.bin == 3"}],
          "mark": {"type": "rect", "fill": {"gradient": "linear", "x1": 0, "y1": 0, "x2": 1.12232, "y2": 0.16429, "stops": [
            {"offset": 0.0185, "color": "rgba(42,128,255,0)"}, {"offset": 0.0385, "color": "#2a80ff"}, {"offset": 0.0585, "color": "rgba(42,128,255,0)"},
            {"offset": 0.0954, "color": "rgba(42,128,255,0)"}, {"offset": 0.1154, "color": "#2a80ff"}, {"offset": 0.1354, "color": "rgba(42,128,255,0)"},
            {"offset": 0.1723, "color": "rgba(42,128,255,0)"}, {"offset": 0.1923, "color": "#2a80ff"}, {"offset": 0.2123, "color": "rgba(42,128,255,0)"},
            {"offset": 0.2492, "color": "rgba(42,128,255,0)"}, {"offset": 0.2692, "color": "#2a80ff"}, {"offset": 0.2892, "color": "rgba(42,128,255,0)"},
            {"offset": 0.3262, "color": "rgba(42,128,255,0)"}, {"offset": 0.3462, "color": "#2a80ff"}, {"offset": 0.3662, "color": "rgba(42,128,255,0)"},
            {"offset": 0.4031, "color": "rgba(42,128,255,0)"}, {"offset": 0.4231, "color": "#2a80ff"}, {"offset": 0.4431, "color": "rgba(42,128,255,0)"},
            {"offset": 0.48, "color": "rgba(42,128,255,0)"}, {"offset": 0.5, "color": "#2a80ff"}, {"offset": 0.52, "color": "rgba(42,128,255,0)"},
            {"offset": 0.5569, "color": "rgba(42,128,255,0)"}, {"offset": 0.5769, "color": "#2a80ff"}, {"offset": 0.5969, "color": "rgba(42,128,255,0)"},
            {"offset": 0.6338, "color": "rgba(42,128,255,0)"}, {"offset": 0.6538, "color": "#2a80ff"}, {"offset": 0.6738, "color": "rgba(42,128,255,0)"},
            {"offset": 0.7108, "color": "rgba(42,128,255,0)"}, {"offset": 0.7308, "color": "#2a80ff"}, {"offset": 0.7508, "color": "rgba(42,128,255,0)"},
            {"offset": 0.7877, "color": "rgba(42,128,255,0)"}, {"offset": 0.8077, "color": "#2a80ff"}, {"offset": 0.8277, "color": "rgba(42,128,255,0)"},
            {"offset": 0.8646, "color": "rgba(42,128,255,0)"}, {"offset": 0.8846, "color": "#2a80ff"}, {"offset": 0.9046, "color": "rgba(42,128,255,0)"},
            {"offset": 0.9415, "color": "rgba(42,128,255,0)"}, {"offset": 0.9615, "color": "#2a80ff"}, {"offset": 0.9815, "color": "rgba(42,128,255,0)"}
          ]}},
          "encoding": {
            "x": {"field": "x0", "type": "quantitative", "scale": {"domain": [-0.5, 5.5], "nice": false, "zero": false}, "axis": null},
            "x2": {"field": "x1"},
            "y": {"field": "lo", "type": "quantitative", "scale": {"domain": [0, 98.8], "nice": false}, "axis": null},
            "y2": {"field": "hi"}
          }
        },
        {
          "data": {"name": "rband"},
          "transform": [{"filter": "datum.bin >= 4"}],
          "mark": {"type": "rect", "fill": "rgba(42,128,255,0.4)"},
          "encoding": {
            "x": {"field": "x0", "type": "quantitative", "scale": {"domain": [-0.5, 5.5], "nice": false, "zero": false}, "axis": null},
            "x2": {"field": "x1"},
            "y": {"field": "lo", "type": "quantitative", "scale": {"domain": [0, 98.8], "nice": false}, "axis": null},
            "y2": {"field": "hi"}
          }
        },
        {
          "data": {"name": "rdata"},
          "mark": {"type": "rule", "strokeWidth": 2, "color": "#000000"},
          "encoding": {
            "x": {"field": "x0", "type": "quantitative", "scale": {"domain": [-0.5, 5.5], "nice": false, "zero": false},
                  "axis": {"orient": "top", "values": [0, 1, 2, 3, 4, 5], "offset": -11, "tickSize": 11, "labels": false, "title": null}},
            "x2": {"field": "x1"},
            "y": {"field": "v", "type": "quantitative", "scale": {"domain": [0, 98.8], "nice": false},
                  "axis": {"orient": "right", "values": [0, 20, 40, 60, 80], "offset": -16, "tickSize": 16, "labels": false, "title": null}}
          }
        },
        {
          "data": {"name": "rdata"},
          "mark": {"type": "rule", "strokeWidth": 2, "color": "#000000"},
          "encoding": {
            "x": {"field": "c", "type": "quantitative", "scale": {"domain": [-0.5, 5.5], "nice": false, "zero": false},
                  "axis": {"orient": "top", "values": [-0.4, -0.2, 0.2, 0.4, 0.6, 0.8, 1.2, 1.4, 1.6, 1.8, 2.2, 2.4, 2.6, 2.8, 3.2, 3.4, 3.6, 3.8, 4.2, 4.4, 4.6, 4.8, 5.2, 5.4], "offset": -6, "tickSize": 6, "labels": false, "title": null}},
            "y": {"field": "tlo", "type": "quantitative", "scale": {"domain": [0, 98.8], "nice": false},
                  "axis": {"orient": "right", "values": [5, 10, 15, 25, 30, 35, 45, 50, 55, 65, 70, 75, 85, 90, 95], "offset": -8, "tickSize": 8, "labels": false, "title": null}},
            "y2": {"field": "thi"}
          }
        },
        {
          "data": {"name": "rdata"},
          "transform": [{"fold": ["tlo", "thi", "slo", "shi"], "as": ["k", "ev"]}],
          "mark": {"type": "tick", "orient": "horizontal", "size": 8, "thickness": 2, "color": "#000000", "opacity": 1},
          "encoding": {
            "x": {"field": "c", "type": "quantitative", "scale": {"domain": [-0.5, 5.5], "nice": false, "zero": false},
                  "axis": {"orient": "bottom", "domain": true, "domainWidth": 1.5, "domainColor": "#000000", "domainCap": "square", "ticks": false, "labels": false, "title": null}},
            "y": {"field": "ev", "type": "quantitative", "scale": {"domain": [0, 98.8], "nice": false},
                  "axis": {"orient": "left", "domain": true, "domainWidth": 1.5, "domainColor": "#000000", "domainCap": "square", "ticks": false, "labels": false, "title": null}}
          }
        },
        {
          "data": {"name": "rdata"},
          "transform": [{"fold": ["x0", "x1"], "as": ["k", "ex"]}],
          "mark": {"type": "tick", "orient": "vertical", "size": 8, "thickness": 1.5, "color": "#000000", "opacity": 1},
          "encoding": {
            "x": {"field": "ex", "type": "quantitative", "scale": {"domain": [-0.5, 5.5], "nice": false, "zero": false},
                  "axis": {"orient": "top", "domain": true, "domainWidth": 1.5, "domainColor": "#000000", "domainCap": "square", "ticks": false, "labels": false, "title": null}},
            "y": {"field": "v", "type": "quantitative", "scale": {"domain": [0, 98.8], "nice": false},
                  "axis": {"orient": "right", "domain": true, "domainWidth": 1.5, "domainColor": "#000000", "domainCap": "square", "ticks": false, "labels": false, "title": null}}
          }
        },
        {
          "data": {"name": "rdata"},
          "mark": {"type": "point", "filled": true, "size": 40, "color": "#000000", "opacity": 1},
          "encoding": {
            "x": {"field": "c", "type": "quantitative", "scale": {"domain": [-0.5, 5.5], "nice": false, "zero": false}, "axis": null},
            "y": {"field": "v", "type": "quantitative", "scale": {"domain": [0, 98.8], "nice": false}, "axis": null}
          }
        }
      ]
    }
  ]
}
